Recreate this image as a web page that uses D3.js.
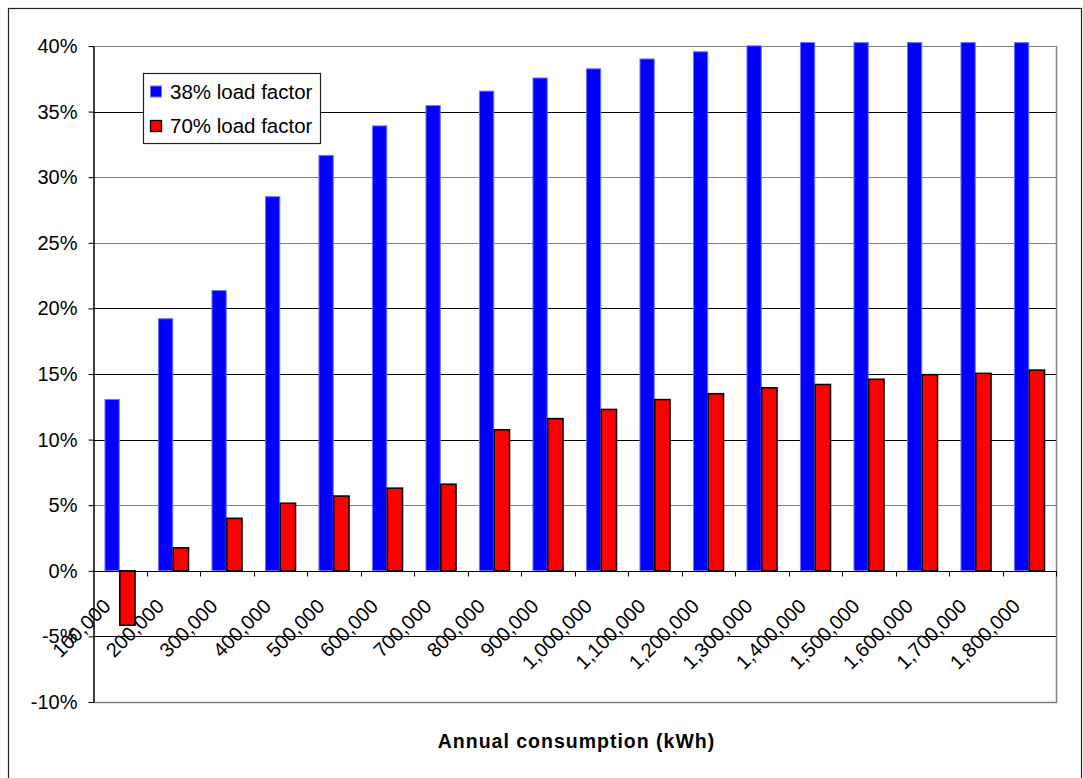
<!DOCTYPE html>
<html>
<head>
<meta charset="utf-8">
<script src="https://cdn.jsdelivr.net/npm/d3@7/dist/d3.min.js"></script>
<style>
  html, body { margin: 0; padding: 0; background: #fff; }
  svg { display: block; font-family: "Liberation Sans", Arial, sans-serif; }
</style>
</head>
<body>
<svg id="chart" width="1083" height="778"></svg>
<script>
// Annual consumption categories (kWh)
const categories = ["100,000", "200,000", "300,000", "400,000", "500,000", "600,000",
  "700,000", "800,000", "900,000", "1,000,000", "1,100,000", "1,200,000",
  "1,300,000", "1,400,000", "1,500,000", "1,600,000", "1,700,000", "1,800,000"];

// Percentage values per series
const series38 = [13.1, 19.25, 21.4, 28.55, 31.7, 33.95, 35.5, 36.6, 37.6, 38.3,
  39.05, 39.6, 40.05, 40.3, 40.3, 40.3, 40.3, 40.3];
const series70 = [-4.15, 1.75, 4.0, 5.15, 5.7, 6.3, 6.6, 10.75, 11.6, 12.3,
  13.05, 13.5, 13.95, 14.2, 14.6, 14.95, 15.05, 15.3];

const seriesNames = ["38% load factor", "70% load factor"];
const yTicks = [-10, -5, 0, 5, 10, 15, 20, 25, 30, 35, 40];

const svg = d3.select("#chart");
const plot = { left: 93, right: 1056, top: 46, bottom: 702 };

// outer chart frame
svg.append("rect")
  .attr("x", 8.5).attr("y", 8.5)
  .attr("width", 1073).attr("height", 775)
  .attr("fill", "#fff").attr("stroke", "#222").attr("stroke-width", 1.2);

const y = d3.scaleLinear().domain([-10, 40]).range([plot.bottom, plot.top]);
const x = d3.scaleBand().domain(categories).range([plot.left, plot.right]).padding(0);
const bw = x.bandwidth();
const barW = bw / 3.5;              // gap width of 150%
const x1 = d3.scaleBand().domain(seriesNames)
  .range([barW * 0.75, bw - barW * 0.75]).padding(0);

// gridlines (some render gray, some black)
const grayLines = new Set([40, 30, 25, 5, -10]);
svg.append("g").selectAll("line")
  .data(yTicks.filter(t => t !== 0))
  .join("line")
  .attr("x1", plot.left).attr("x2", plot.right)
  .attr("y1", d => Math.round(y(d)) + 0.5).attr("y2", d => Math.round(y(d)) + 0.5)
  .attr("stroke", d => grayLines.has(d) ? "#808080" : "#000")
  .attr("stroke-width", 1);

// right and bottom border of plot area
svg.append("line")
  .attr("x1", plot.right + 0.5).attr("x2", plot.right + 0.5)
  .attr("y1", plot.top).attr("y2", plot.bottom + 1)
  .attr("stroke", "#808080").attr("stroke-width", 1.5);
svg.append("line")
  .attr("x1", plot.left).attr("x2", plot.right + 1)
  .attr("y1", Math.round(y(-10)) + 0.5).attr("y2", Math.round(y(-10)) + 0.5)
  .attr("stroke", "#808080").attr("stroke-width", 1.5);

// bars
const groups = svg.append("g").selectAll("g")
  .data(categories)
  .join("g")
  .attr("transform", d => `translate(${x(d)},0)`);

groups.append("rect")
  .attr("x", () => x1(seriesNames[0]) + 0.5)
  .attr("width", x1.bandwidth() - 1)
  .attr("y", (d, i) => y(Math.max(0, series38[i])) + 0.5)
  .attr("height", (d, i) => Math.abs(y(series38[i]) - y(0)) - 0.5)
  .attr("fill", "#0000ff")
  .attr("stroke", "#7373ff").attr("stroke-width", 1);

groups.append("rect")
  .attr("x", () => x1(seriesNames[1]))
  .attr("width", x1.bandwidth())
  .attr("y", (d, i) => y(Math.max(0, series70[i])))
  .attr("height", (d, i) => Math.abs(y(series70[i]) - y(0)))
  .attr("fill", "#ff0000")
  .attr("stroke", "#000").attr("stroke-width", 1.5);

// y axis
const yAxis = svg.append("g")
  .attr("transform", `translate(${plot.left + 0.5},0)`)
  .call(d3.axisLeft(y).tickValues(yTicks).tickFormat(d => d + "%")
    .tickSize(5).tickSizeOuter(0).tickPadding(11));
yAxis.select(".domain").attr("stroke", "#000").attr("stroke-width", 1.5);
yAxis.selectAll(".tick line").attr("stroke", "#000");
yAxis.selectAll(".tick text")
  .attr("font-family", "'Liberation Sans', Arial, sans-serif")
  .attr("font-size", 20).attr("fill", "#000");

// x axis at 0%
const y0 = Math.round(y(0)) + 0.5;
svg.append("line")
  .attr("x1", plot.left).attr("x2", plot.right + 1)
  .attr("y1", y0).attr("y2", y0)
  .attr("stroke", "#000").attr("stroke-width", 1.2);
svg.append("g").selectAll("line")
  .data(categories)
  .join("line")
  .attr("x1", d => Math.round(x(d) + bw) + 0.5)
  .attr("x2", d => Math.round(x(d) + bw) + 0.5)
  .attr("y1", y0).attr("y2", y0 + 5)
  .attr("stroke", "#000");

// rotated category labels
svg.append("g").selectAll("text")
  .data(categories)
  .join("text")
  .attr("transform", d => `translate(${x(d) + bw / 2 - 8},${y0 + 36}) rotate(-45)`)
  .attr("text-anchor", "end")
  .attr("font-size", 20)
  .attr("fill", "#000")
  .text(d => d);

// axis title
svg.append("text")
  .attr("x", (plot.left + plot.right) / 2 + 2)
  .attr("y", 748)
  .attr("text-anchor", "middle")
  .attr("font-size", 19.5)
  .attr("font-weight", "bold")
  .attr("letter-spacing", 1)
  .attr("fill", "#000")
  .text("Annual consumption (kWh)");

// legend
const legend = svg.append("g");
legend.append("rect")
  .attr("x", 143.5).attr("y", 73.5).attr("width", 177).attr("height", 70)
  .attr("fill", "#fff").attr("stroke", "#222").attr("stroke-width", 1.2);
const legendColors = ["#0000ff", "#ff0000"];
const legendStroke = ["#7373ff", "#000"];
seriesNames.forEach((name, i) => {
  const cy = 92 + i * 34.5;
  legend.append("rect")
    .attr("x", 150.5).attr("y", cy - 6).attr("width", 11).attr("height", 11)
    .attr("fill", legendColors[i]).attr("stroke", legendStroke[i]).attr("stroke-width", i ? 1.3 : 1);
  legend.append("text")
    .attr("x", 170).attr("y", cy + 6.5)
    .attr("font-size", 20.5).attr("fill", "#000")
    .text(name);
});
</script>
</body>
</html>
